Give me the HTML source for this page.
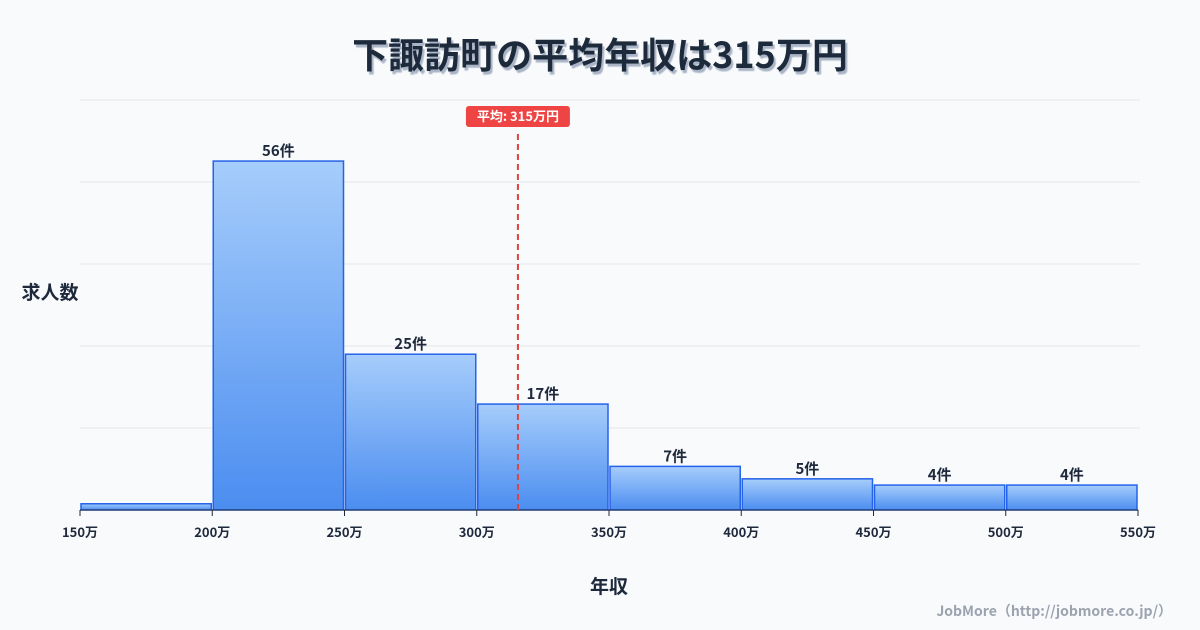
<!DOCTYPE html>
<html><head><meta charset="utf-8">
<style>
body{margin:0;background:#f8fafc;font-family:"Noto Sans CJK JP","Liberation Sans",sans-serif;}
#wrap{position:relative;width:1200px;height:630px;overflow:hidden;background:#f8fafc;}
svg text{font-family:"Noto Sans CJK JP","Liberation Sans",sans-serif;}
</style></head>
<body>
<div id="wrap">
<svg id="chart" width="1200" height="630" xmlns="http://www.w3.org/2000/svg">
<defs>
<linearGradient id="bg" x1="0" y1="0" x2="0" y2="1">
<stop offset="0" stop-color="#a6cdfb"/><stop offset="1" stop-color="#4b8df0"/>
</linearGradient>
<filter id="sh" x="-10%" y="-30%" width="120%" height="160%"><feDropShadow dx="2" dy="3" stdDeviation="0.5" flood-color="#94a3b8" flood-opacity="0.8"/></filter>
</defs>
<text x="600" y="68" text-anchor="middle" font-size="36" font-weight="bold" fill="#1e293b" filter="url(#sh)">下諏訪町の平均年収は315万円</text>
<g id="grid"></g><g id="bars"></g><g id="xt"></g>
<text x="50" y="299" text-anchor="middle" font-size="19" font-weight="bold" fill="#1e293b">求人数</text>
<text x="609" y="593" text-anchor="middle" font-size="19" font-weight="bold" fill="#1e293b">年収</text>
<text x="1172" y="616" text-anchor="end" font-size="14" font-weight="bold" fill="#9ca3af">JobMore（http://jobmore.co.jp/）</text>
<g id="avg"></g>
</svg>
</div>
<script>
const binStarts=[150,200,250,300,350,400,450,500];
const counts=[1,56,25,17,7,5,4,4];
const xTicks=[150,200,250,300,350,400,450,500,550];
const average=315;
const NS="http://www.w3.org/2000/svg";
const x0=80,x1=1138,xmin=150,xmax=550,yb=510,yt=100,ymax=65.8;
const X=v=>x0+(v-xmin)/(xmax-xmin)*(x1-x0);
const Y=v=>yb-v/ymax*(yb-yt);
function mk(t,a,p){const e=document.createElementNS(NS,t);for(const k in a)e.setAttribute(k,a[k]);p.appendChild(e);return e;}
const grid=document.getElementById('grid');
for(let i=0;i<=5;i++){const y=yt+i*(yb-yt)/5;const l=mk('line',{x1:x0,x2:x1+2,y1:y,y2:y,stroke:'#e5e7eb','stroke-width':1},grid);

}
const bars=document.getElementById('bars');
counts.forEach((c,i)=>{const a=X(binStarts[i]),b=X(binStarts[i]+50);
const r=mk('rect',{x:a+1,y:Y(c),width:b-a-2,height:yb-Y(c),fill:'url(#bg)',stroke:'#2563eb','stroke-width':1.5},bars);


if(c>1){const t=mk('text',{x:(a+b)/2,y:Y(c)-5,'text-anchor':'middle','font-size':15,'font-weight':'bold',fill:'#1e293b'},bars);t.textContent=c+'件';

}
});
mk('line',{x1:x0,x2:x1,y1:yb,y2:yb,stroke:'#1e293b','stroke-width':1},bars);
const xt=document.getElementById('xt');
xTicks.forEach(v=>{mk('line',{x1:X(v),x2:X(v),y1:yb,y2:yb+6,stroke:'#1e293b'},xt);
const t=mk('text',{x:X(v),y:537,'text-anchor':'middle','font-size':13,'font-weight':'bold',fill:'#1e293b'},xt);t.textContent=v+'万';

});
const avg=document.getElementById('avg');const ax=X(average)+1.5;
const al=mk('line',{x1:ax,x2:ax,y1:134,y2:yb,stroke:'#dc4444','stroke-width':2,'stroke-dasharray':'6,4'},avg);


const ar=mk('rect',{x:ax-52,y:106,width:104,height:21,rx:3,fill:'#ef4444'},avg);


const at=mk('text',{x:ax,y:121,'text-anchor':'middle','font-size':13,'font-weight':'bold',fill:'#fff'},avg);at.textContent='平均: '+average+'万円';


</script>
</body></html>
